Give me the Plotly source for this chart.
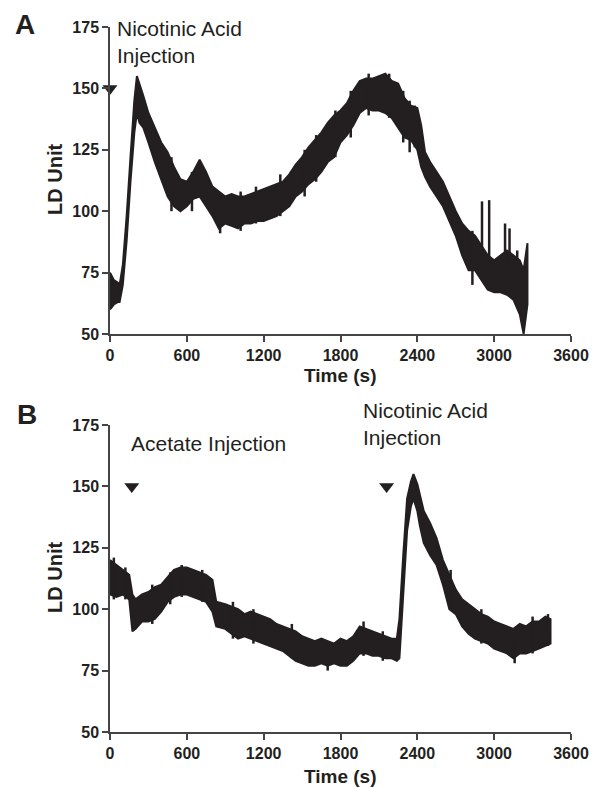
import plotly.graph_objects as go

# Panel A: nicotinic acid only (time s, lower / upper envelope of LD trace)
a_time = [0, 30, 60, 75, 100, 130, 160, 190, 210, 230, 260, 300, 350, 400, 450, 500,
          550, 600, 650, 700, 750, 800, 850, 900, 950, 1000, 1050, 1100, 1150, 1200,
          1250, 1300, 1350, 1400, 1450, 1500, 1550, 1600, 1650, 1700, 1750, 1800,
          1850, 1900, 1950, 2000, 2050, 2100, 2150, 2200, 2250, 2300, 2350, 2400,
          2430, 2460, 2500, 2550, 2600, 2650, 2700, 2750, 2800, 2850, 2900, 2950,
          3000, 3050, 3100, 3150, 3200, 3230, 3260]
a_low = [60, 62, 63, 63, 70, 88, 112, 132, 140, 136, 134, 128, 120, 113, 106, 102,
         100, 102, 105, 106, 102, 98, 93, 95, 94, 93, 95, 95, 96, 96,
         97, 98, 100, 102, 106, 108, 111, 113, 116, 120, 122, 128,
         131, 135, 140, 142, 141, 141, 140, 138, 134, 130, 129, 125,
         118, 114, 110, 106, 102, 96, 90, 82, 76, 76, 72, 68,
         67, 67, 66, 64, 58, 50, 62]
a_high = [75, 72, 71, 70, 78, 98, 122, 145, 155, 152, 147, 140, 134, 128, 124, 118,
          113, 112, 116, 121, 116, 110, 108, 106, 107, 106, 106, 107, 108, 109,
          110, 111, 112, 115, 119, 122, 126, 129, 132, 136, 139, 141,
          144, 149, 153, 154, 154, 155, 156, 153, 152, 146, 143, 142,
          135, 124, 120, 116, 112, 106, 100, 95, 92, 90, 86, 82,
          80, 82, 84, 82, 80, 76, 87]
# short noise spikes visible on the A trace
a_spike_t = [480, 640, 860, 1020, 1140, 1330, 1520, 1610, 1760, 1880, 2020, 2180,
             2290, 2340, 2380, 2830, 2905, 2961, 3085, 3120, 3180]
a_spike_low = [100, 100, 91, 92, 95, 98, 106, 112, 122, 130, 139, 138,
               128, 124, 126, 70, 80, 80, 78, 76, 62]
a_spike_high = [122, 116, 106, 108, 110, 115, 125, 131, 141, 149, 156, 156,
                149, 145, 143, 92, 104, 104.5, 95, 93, 84]

# Panel B: acetate then nicotinic acid
b_time = [0, 50, 100, 150, 175, 200, 250, 300, 350, 400, 450, 500, 550, 600, 650,
          700, 750, 800, 830, 900, 950, 1000, 1050, 1100, 1150, 1200, 1250, 1300,
          1350, 1400, 1450, 1500, 1550, 1600, 1650, 1700, 1750, 1800, 1850, 1900,
          1950, 2000, 2050, 2100, 2150, 2200, 2240, 2260, 2290, 2320, 2350, 2370,
          2400, 2420, 2450, 2500, 2550, 2600, 2650, 2700, 2750, 2800, 2850, 2900,
          2950, 3000, 3050, 3100, 3150, 3200, 3250, 3300, 3350, 3400, 3440]
b_low = [106, 105, 106, 104, 91, 92, 95, 95, 96, 99, 103, 105, 106, 106, 105,
         104, 103, 99, 93, 92, 90, 88, 89, 88, 87, 86, 85, 84,
         83, 81, 79, 78, 77, 77, 78, 77, 78, 77, 77, 79,
         82, 82, 81, 81, 80, 80, 79, 80, 108, 132, 142, 145,
         140, 134, 127, 122, 118, 110, 100, 98, 93, 90, 88, 87,
         86, 84, 83, 82, 80, 82, 82, 83, 84, 85, 86]
b_high = [120, 118, 116, 114, 106, 104, 106, 107, 109, 110, 113, 116, 117, 117, 116,
          115, 114, 112, 103, 102, 101, 100, 98, 99, 98, 97, 96, 94,
          93, 92, 91, 89, 88, 87, 88, 87, 86, 88, 87, 89,
          93, 92, 91, 90, 89, 88, 88, 96, 122, 145, 152, 155,
          151, 147, 140, 135, 129, 120, 114, 108, 104, 102, 100, 98,
          97, 95, 94, 93, 92, 94, 93, 95, 95, 97, 96]
b_spike_t = [30, 120, 330, 470, 560, 720, 960, 1120, 1420, 1700, 1980, 2130,
             2660, 2900, 3160, 3300, 3420]
b_spike_low = [104, 104, 94, 102, 105, 103, 88, 86, 80, 75, 81, 79,
               100, 86, 78, 82, 85]
b_spike_high = [121, 117, 110, 115, 118, 116, 103, 100, 94, 86, 95, 91,
                116, 100, 90, 97, 98]

# injection markers
a_inj_t = [0]
a_inj_y = [150]
b_inj_t = [170, 2160]
b_inj_y = [150, 150]

INK = "#231f20"
# the page body adds an 8px margin, so the figure is 8px smaller than the window
OFF = 8
W, H = 600 - OFF, 787 - OFF


def px(x):
    return (x - OFF) / W


def py(y):
    return 1 - (y - OFF) / H


fig = go.Figure()


def add_band(t, lo, hi, xa, ya):
    fig.add_trace(go.Scatter(x=t + t[::-1], y=hi + lo[::-1], xaxis=xa, yaxis=ya,
                             fill="toself", fillcolor=INK, mode="lines",
                             line=dict(color=INK, width=2), hoverinfo="skip"))


def add_spikes(t, lo, hi, xa, ya):
    xs, ys = [], []
    for ti, l, h in zip(t, lo, hi):
        xs += [ti, ti, None]
        ys += [l, h, None]
    fig.add_trace(go.Scatter(x=xs, y=ys, xaxis=xa, yaxis=ya, mode="lines",
                             line=dict(color=INK, width=2.5), hoverinfo="skip"))


add_band(a_time, a_low, a_high, "x", "y")
add_spikes(a_spike_t, a_spike_low, a_spike_high, "x", "y")
add_band(b_time, b_low, b_high, "x2", "y2")
add_spikes(b_spike_t, b_spike_low, b_spike_high, "x2", "y2")

fig.add_trace(go.Scatter(x=a_inj_t, y=a_inj_y, xaxis="x", yaxis="y", mode="markers",
                         marker=dict(symbol="triangle-down", size=13, color=INK),
                         cliponaxis=False))
fig.add_trace(go.Scatter(x=b_inj_t, y=b_inj_y, xaxis="x2", yaxis="y2", mode="markers",
                         marker=dict(symbol="triangle-down", size=13, color=INK),
                         cliponaxis=False))

tickfont = dict(family="Liberation Sans, Arial", size=16, color=INK, weight="bold")
xcommon = dict(range=[0, 3600], tickvals=[0, 600, 1200, 1800, 2400, 3000, 3600],
               showline=True, linecolor="#444", linewidth=1.5, ticks="outside",
               ticklen=6, tickwidth=1.5, tickcolor="#444", showgrid=False,
               zeroline=False, tickfont=tickfont, automargin=False,
               domain=[px(110), px(571)])
ycommon = dict(range=[50, 175], tickvals=[50, 75, 100, 125, 150, 175],
               showline=True, linecolor="#444", linewidth=1.5, ticks="outside",
               ticklen=6, tickwidth=1.5, tickcolor="#444", showgrid=False,
               zeroline=False, tickfont=tickfont, automargin=False)

fig.update_layout(
    width=W, height=H, showlegend=False,
    paper_bgcolor="white", plot_bgcolor="white",
    margin=dict(l=0, r=0, t=0, b=0, autoexpand=False),
    xaxis=dict(xcommon, anchor="y"),
    yaxis=dict(ycommon, anchor="x", domain=[py(334), py(27)]),
    xaxis2=dict(xcommon, anchor="y2"),
    yaxis2=dict(ycommon, anchor="x2", domain=[py(732), py(425)]),
)

txt = dict(family="Liberation Sans, Arial", size=21, color=INK)
bold_title = dict(family="Liberation Sans, Arial", size=19, color=INK, weight="bold")
bold_ytitle = dict(family="Liberation Sans, Arial", size=20, color=INK, weight="bold")
letter = dict(family="Liberation Sans, Arial", size=28, color=INK, weight="bold")

annotations = [
    dict(text="A", x=px(25), y=py(25), font=letter),
    dict(text="B", x=px(27), y=py(415), font=letter),
    dict(text="LD Unit", x=px(55), y=py(180), font=bold_ytitle, textangle=-90),
    dict(text="LD Unit", x=px(55), y=py(578), font=bold_ytitle, textangle=-90),
    dict(text="Time (s)", x=px(340), y=py(376), font=bold_title),
    dict(text="Time (s)", x=px(340), y=py(776), font=bold_title),
]
for a in annotations:
    a.update(xref="paper", yref="paper", showarrow=False, xanchor="center", yanchor="middle")

notes = [
    dict(text="Nicotinic Acid<br>Injection", x=px(115), y=py(15), align="left"),
    dict(text="Acetate Injection", x=px(129), y=py(430), align="left"),
    dict(text="Nicotinic Acid<br>Injection", x=px(361), y=py(397), align="left"),
]
for n in notes:
    n.update(xref="paper", yref="paper", showarrow=False, xanchor="left",
             yanchor="top", font=txt)

fig.update_layout(annotations=annotations + notes)

fig.write_html("out.html")
